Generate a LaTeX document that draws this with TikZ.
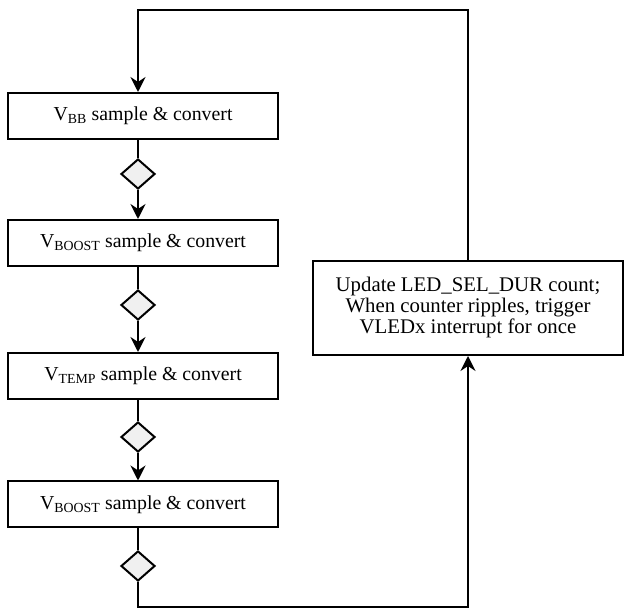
\documentclass[tikz,border=0pt]{standalone}
\usepackage{fontspec}
\setmainfont{Liberation Serif}
\usetikzlibrary{shapes.geometric,arrows.meta}
\begin{document}
\begin{tikzpicture}[x=1pt,y=-1pt,line width=2pt,
  stepbox/.style={draw,rectangle,minimum width=270pt,minimum height=46pt,inner sep=0pt,font=\fontsize{19.8}{22}\selectfont},
  gate/.style={draw,diamond,fill=black!6,minimum width=34pt,minimum height=30pt,inner sep=0pt},
  flow/.style={-{Stealth[length=15pt,width=15pt,inset=5pt]}}]
\useasboundingbox (0,0) rectangle (625,609);
\node[stepbox] (vbb) at (143,116) {V\textsubscript{BB} sample \& convert};
\node[gate] (g1) at (138,174) {};
\node[stepbox] (vboost) at (143,243) {V\textsubscript{BOOST} sample \& convert};
\node[gate] (g2) at (138,305) {};
\node[stepbox] (vtemp) at (143,376) {V\textsubscript{TEMP} sample \& convert};
\node[gate] (g3) at (138,437) {};
\node[stepbox] (vboost2) at (143,504.5) {V\textsubscript{BOOST} sample \& convert};
\node[gate] (g4) at (138,566) {};
\node[draw,rectangle,minimum width=310pt,minimum height=94pt,align=center,font=\fontsize{20.8}{21}\selectfont] (upd) at (468,308)
  {Update LED\_SEL\_DUR count;\\ When counter ripples, trigger\\ VLEDx interrupt for once};
\coordinate (top) at (138,10);
\coordinate (bot) at (138,607.5);
\draw (g1 |- vbb.south) -- (g1);
\draw[flow] (g1) -- (g1 |- vboost.north);
\draw (g2 |- vboost.south) -- (g2);
\draw[flow] (g2) -- (g2 |- vtemp.north);
\draw (g3 |- vtemp.south) -- (g3);
\draw[flow] (g3) -- (g3 |- vboost2.north);
\draw (g4 |- vboost2.south) -- (g4);
\draw[flow] (g4) -- (bot) -| (upd.south);
\draw[flow] (upd.north) |- (top) -- (top |- vbb.north);
\end{tikzpicture}
\end{document}
